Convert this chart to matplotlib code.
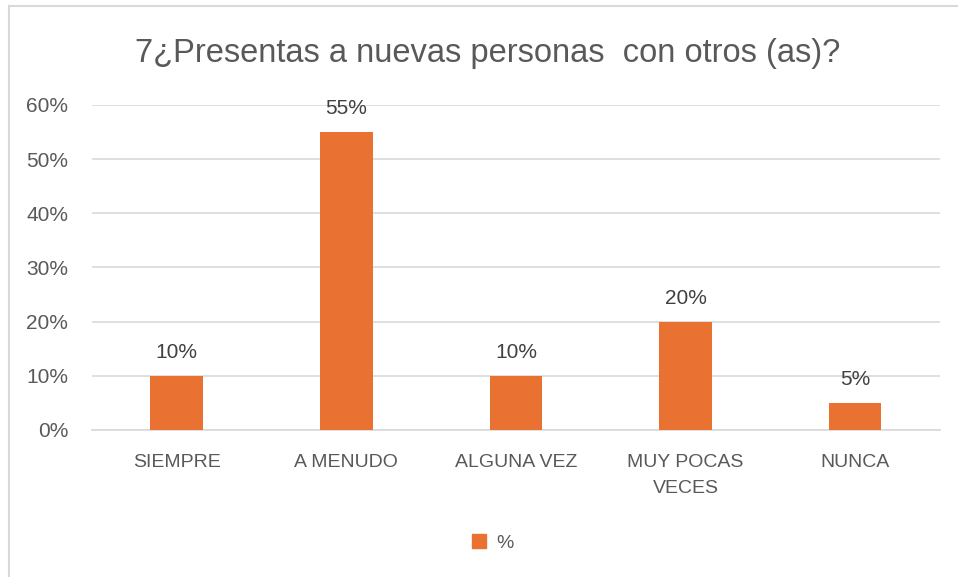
import matplotlib.pyplot as plt
from matplotlib.lines import Line2D
from matplotlib.ticker import FuncFormatter

plt.rcParams['font.family'] = ['Liberation Sans', 'DejaVu Sans']

# data
categories = ['SIEMPRE', 'A MENUDO', 'ALGUNA VEZ', 'MUY POCAS\nVECES', 'NUNCA']
values = [10, 55, 10, 20, 5]
series_name = '%'
title = '7¿Presentas a nuevas personas  con otros (as)?'

bar_color = '#E97132'
grid_color = '#D9D9D9'
text_color = '#595959'

fig = plt.figure(figsize=(9.58, 5.77), dpi=100)
ax = fig.add_axes([0.096, 0.2548, 0.885, 0.5633])

x = range(len(categories))
bars = ax.bar(x, values, width=0.31, color=bar_color, label=series_name, zorder=3)

for b, v in zip(bars, values):
    ax.text(b.get_x() + b.get_width() / 2, v + 2.55, f'{v}%', ha='center', va='bottom',
            fontsize=15, color='#404040')

ax.set_xlim(-0.5, len(categories) - 0.5)
ax.set_ylim(0, 60)
ax.set_yticks(range(0, 61, 10))
ax.yaxis.set_major_formatter(FuncFormatter(lambda v, p: f'{v:.0f}%'))
ax.set_xticks(list(x))
ax.set_xticklabels(categories, fontsize=14, color=text_color, linespacing=1.75)
ax.tick_params(axis='y', labelsize=15, labelcolor=text_color, length=0, pad=17)
ax.tick_params(axis='x', length=0, pad=17)

ax.grid(axis='y', color=grid_color, linewidth=1.2, zorder=0)
for s in ['top', 'right', 'left']:
    ax.spines[s].set_visible(False)
ax.spines['bottom'].set_color(grid_color)
ax.spines['bottom'].set_linewidth(1.2)

fig.text(0.509, 0.907, title, ha='center', va='center', fontsize=23.5, color=text_color)

fig.legend(handles=[plt.Rectangle((0, 0), 1, 1, color=bar_color)], labels=[series_name],
           loc='center', bbox_to_anchor=(0.514, 0.059), frameon=False, fontsize=14,
           handlelength=0.75, handleheight=0.75, handletextpad=0.5, labelcolor=text_color)

# chart border (top and left edges)
fig.add_artist(Line2D([9 / 958, 1], [1 - 6 / 577, 1 - 6 / 577], color='#D9D9D9', linewidth=1.5,
                      transform=fig.transFigure))
fig.add_artist(Line2D([9 / 958, 9 / 958], [0, 1 - 6 / 577], color='#D9D9D9', linewidth=1.5,
                      transform=fig.transFigure))

fig.savefig('out.png', dpi=100)
